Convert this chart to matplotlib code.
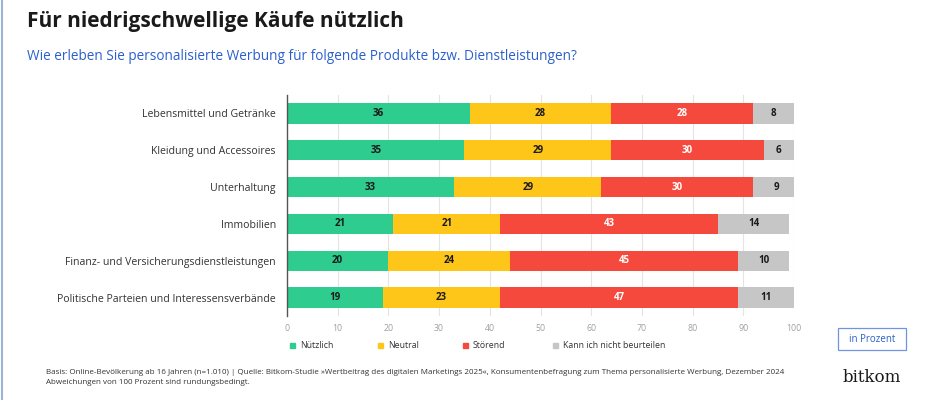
import numpy as np
import matplotlib.pyplot as plt
from matplotlib.patches import Rectangle
from matplotlib.lines import Line2D

# === Données ===
kategorien = [
    "Lebensmittel und Getränke",
    "Kleidung und Accessoires",
    "Unterhaltung",
    "Immobilien",
    "Finanz- und Versicherungsdienstleistungen",
    "Politische Parteien und Interessensverbände",
]
nuetzlich = [36, 35, 33, 21, 20, 19]
neutral = [28, 29, 29, 21, 24, 23]
stoerend = [28, 30, 30, 43, 45, 47]
kann_nicht = [8, 6, 9, 14, 10, 11]

serien = [nuetzlich, neutral, stoerend, kann_nicht]
legende = ["Nützlich", "Neutral", "Störend", "Kann ich nicht beurteilen"]
farben = ["#2ecc8f", "#ffc61a", "#f5493d", "#c6c6c6"]
textfarben = ["#1a1a1a", "#1a1a1a", "white", "#1a1a1a"]
ticks_x = [0, 10, 20, 30, 40, 50, 60, 70, 80, 90, 100]

FONT = ["Open Sans", "DejaVu Sans"]
plt.rcParams['font.family'] = FONT

fig = plt.figure(figsize=(9.3, 4.0), dpi=100)
fig.patch.set_facecolor("white")

ax = fig.add_axes([287 / 930, 1 - 316 / 400, 507 / 930, 221 / 400])

y = np.arange(len(kategorien))
links = np.zeros(len(kategorien))
for werte, farbe, tf in zip(serien, farben, textfarben):
    werte = np.array(werte)
    ax.barh(y, werte, left=links, height=0.55, color=farbe, zorder=3)
    for yi, l, w in zip(y, links, werte):
        ax.text(l + w / 2, yi, str(w), ha="center", va="center",
                fontsize=7, fontweight="bold", color=tf, zorder=4)
    links = links + werte

ax.set_xlim(0, 100)
ax.set_ylim(5.5, -0.5)
ax.set_yticks(y)
ax.set_yticklabels(kategorien, fontsize=7.6, color="#333333")
ax.set_xticks(ticks_x)
ax.tick_params(axis="x", length=0, labelsize=6.3, labelcolor="#a0a0a0", pad=6)
ax.tick_params(axis="y", length=0, pad=8)
ax.grid(axis="x", color="#e4e4e4", linewidth=0.8, zorder=0)
for s in ["top", "right", "bottom"]:
    ax.spines[s].set_visible(False)
ax.spines["left"].set_color("#555555")
ax.spines["left"].set_linewidth(1.0)
ax.spines["left"].set_zorder(5)

# Légende
leg_x = [290, 378, 463, 553]
for lx, lab, farbe in zip(leg_x, legende, farben):
    fig.patches.append(Rectangle((lx / 930, 1 - 348 / 400), 5 / 930, 5 / 400,
                                 transform=fig.transFigure, color=farbe))
    fig.text((lx + 10) / 930, 1 - 345.5 / 400, lab, fontsize=6.3, color="#333333",
             va="center", ha="left")

# Titres
fig.text(27 / 930, 1 - 22 / 400, "Für niedrigschwellige Käufe nützlich",
         fontsize=15, fontweight="bold", color="#1a1a1a", va="center")
fig.text(27 / 930, 1 - 57 / 400,
         "Wie erleben Sie personalisierte Werbung für folgende Produkte bzw. Dienstleistungen?",
         fontsize=9.8, color="#2b5fce", va="center")

# Encadré "in Prozent"
fig.patches.append(Rectangle((838 / 930, 1 - 350 / 400), 68 / 930, 22 / 400,
                             transform=fig.transFigure, facecolor="white",
                             edgecolor="#6f94e0", linewidth=0.9))
fig.text(872 / 930, 1 - 339 / 400, "in Prozent", fontsize=7, color="#2b5fce",
         ha="center", va="center")

# Notes
fig.text(46 / 930, 1 - 373 / 400,
         "Basis: Online-Bevölkerung ab 16 Jahren (n=1.010) | Quelle: Bitkom-Studie »Wertbeitrag des digitalen Marketings 2025«, "
         "Konsumentenbefragung zum Thema personalisierte Werbung, Dezember 2024",
         fontsize=5.8, color="#333333", va="center")
fig.text(46 / 930, 1 - 382 / 400, "Abweichungen von 100 Prozent sind rundungsbedingt.",
         fontsize=5.8, color="#333333", va="center")
fig.text(872 / 930, 1 - 378 / 400, "bitkom", fontsize=12, color="#1a1a1a",
         ha="center", va="center", family=["DejaVu Serif"])

# Bordure gauche
fig.add_artist(Line2D([2 / 930, 2 / 930], [0, 1], transform=fig.transFigure,
                      color="#9db3d6", linewidth=1.5))

fig.savefig("out.png", dpi=100)
